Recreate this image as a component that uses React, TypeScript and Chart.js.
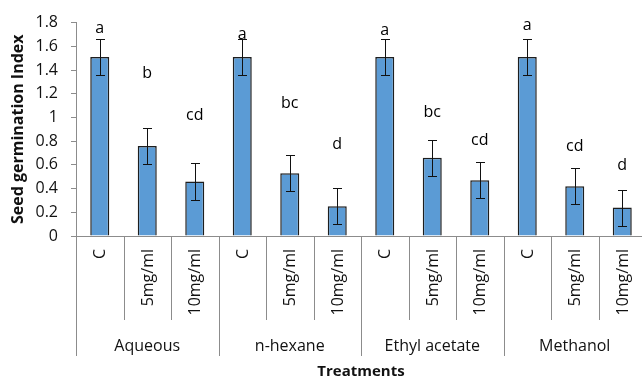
import { useEffect, useRef } from "react";
import { Chart, registerables } from "chart.js";

Chart.register(...registerables);

const groups = ["Aqueous", "n-hexane", "Ethyl acetate", "Methanol"];
const treatments = ["C", "5mg/ml", "10mg/ml"];
const values = [1.51, 0.76, 0.46, 1.51, 0.53, 0.25, 1.51, 0.66, 0.47, 1.51, 0.42, 0.24];
const errors = [0.154, 0.155, 0.154, 0.155, 0.153, 0.152, 0.155, 0.152, 0.152, 0.155, 0.154, 0.152];
const letters = ["a", "b", "cd", "a", "bc", "d", "a", "bc", "cd", "a", "cd", "d"];
const letterValues = [1.715, 1.329, 0.976, 1.658, 1.077, 0.734, 1.693, 1.003, 0.767, 1.734, 0.715, 0.556];
const yTickLabels = ["0", "0.2", "0.4", "0.6", "0.8", "1", "1.2", "1.4", "1.6", "1.8"];
const yTitle = "Seed germination Index";
const xTitle = "Treatments";

const FONT = "'Open Sans', sans-serif";
const TEXT = "#111";
const AXIS = "#8c8c8c";

const labels = groups.flatMap((g) => treatments.map((t) => `${g}|${t}`));

export default function App() {
  const ref = useRef<HTMLCanvasElement | null>(null);

  useEffect(() => {
    const canvas = ref.current;
    if (!canvas) return;

    const overlay = {
      id: "overlay",
      afterDatasetsDraw(chart: any) {
        const ctx = chart.ctx as CanvasRenderingContext2D;
        const xs = chart.scales.x;
        const ys = chart.scales.y;
        ctx.save();
        // error bars
        ctx.strokeStyle = "#111";
        ctx.lineWidth = 1;
        values.forEach((v, i) => {
          const x = Math.round(xs.getPixelForValue(i)) + 0.5;
          const yTop = Math.round(ys.getPixelForValue(v + errors[i])) + 0.5;
          const yBot = Math.round(ys.getPixelForValue(v - errors[i])) + 0.5;
          ctx.beginPath();
          ctx.moveTo(x, yTop);
          ctx.lineTo(x, yBot);
          ctx.moveTo(x - 4.5, yTop);
          ctx.lineTo(x + 4.5, yTop);
          ctx.moveTo(x - 4.5, yBot);
          ctx.lineTo(x + 4.5, yBot);
          ctx.stroke();
        });
        // significance letters
        ctx.fillStyle = "#000";
        ctx.font = `16px ${FONT}`;
        ctx.textAlign = "center";
        ctx.textBaseline = "alphabetic";
        letters.forEach((l, i) => {
          ctx.fillText(l, xs.getPixelForValue(i), ys.getPixelForValue(letterValues[i]));
        });
        ctx.restore();
      },
      afterDraw(chart: any) {
        const ctx = chart.ctx as CanvasRenderingContext2D;
        const xs = chart.scales.x;
        const area = chart.chartArea;
        const n = labels.length;
        const w = (area.right - area.left) / n;
        ctx.save();
        ctx.strokeStyle = AXIS;
        ctx.lineWidth = 1;
        // x axis line
        ctx.beginPath();
        ctx.moveTo(area.left, Math.round(area.bottom) + 0.5);
        ctx.lineTo(area.right, Math.round(area.bottom) + 0.5);
        ctx.stroke();
        // separators
        for (let i = 0; i <= n; i++) {
          const x = Math.round(area.left + i * w) + 0.5;
          const end = i % treatments.length === 0 ? 356 : 320;
          ctx.beginPath();
          ctx.moveTo(x, area.bottom);
          ctx.lineTo(x, end);
          ctx.stroke();
        }
        // category labels (rotated)
        ctx.fillStyle = TEXT;
        ctx.font = `16px ${FONT}`;
        labels.forEach((lab, i) => {
          const t = lab.split("|")[1];
          ctx.save();
          ctx.translate(xs.getPixelForValue(i) + 1, area.bottom + 13);
          ctx.rotate(-Math.PI / 2);
          ctx.textAlign = "right";
          ctx.textBaseline = "middle";
          ctx.fillText(t, 0, 0);
          ctx.restore();
        });
        // group labels
        ctx.textAlign = "center";
        ctx.textBaseline = "alphabetic";
        groups.forEach((g, gi) => {
          const cx = area.left + (gi * treatments.length + treatments.length / 2) * w;
          ctx.fillText(g, cx, 351);
        });
        // x title
        ctx.font = `bold 15px ${FONT}`;
        ctx.fillText(xTitle, (area.left + area.right) / 2, 376);
        // y title
        ctx.save();
        ctx.font = `bold 16px ${FONT}`;
        ctx.translate(23, (area.top + area.bottom) / 2);
        ctx.rotate(-Math.PI / 2);
        ctx.textAlign = "center";
        ctx.textBaseline = "alphabetic";
        ctx.fillText(yTitle, 0, 0);
        ctx.restore();
        ctx.restore();
      },
    };

    const chart = new Chart(canvas, {
      type: "bar",
      data: {
        labels,
        datasets: [
          {
            data: values,
            backgroundColor: "#5B9BD5",
            borderColor: "#1e1e1e",
            borderWidth: 1.5,
            barPercentage: 0.4,
            categoryPercentage: 1,
          },
        ],
      },
      options: {
        responsive: false,
        animation: false,
        devicePixelRatio: 1,
        layout: { padding: { top: 17, right: 14, bottom: 0, left: 0 } },
        plugins: {
          legend: { display: false },
          tooltip: { enabled: false },
        },
        scales: {
          x: {
            grid: { display: false },
            border: { display: false },
            ticks: { display: false },
            afterFit: (s: any) => {
              s.height = 144;
            },
          },
          y: {
            min: 0,
            max: 1.8,
            grid: {
              display: true,
              drawOnChartArea: false,
              drawTicks: true,
              tickLength: 5,
              color: AXIS,
            },
            border: { display: true, color: AXIS },
            ticks: {
              stepSize: 0.2,
              padding: 13,
              color: TEXT,
              font: { family: FONT, size: 16 },
              callback: (_v: any, idx: number) => yTickLabels[idx],
            },
            afterFit: (s: any) => {
              s.width = 76;
            },
          },
        },
      },
      plugins: [overlay],
    });

    return () => chart.destroy();
  }, []);

  return (
    <div
      style={{
        position: "absolute",
        left: 0,
        top: 0,
        width: 642,
        height: 380,
        overflow: "hidden",
        background: "#fff",
      }}
    >
      <canvas ref={ref} width={660} height={380} style={{ width: 660, height: 380, display: "block" }} />
    </div>
  );
}
